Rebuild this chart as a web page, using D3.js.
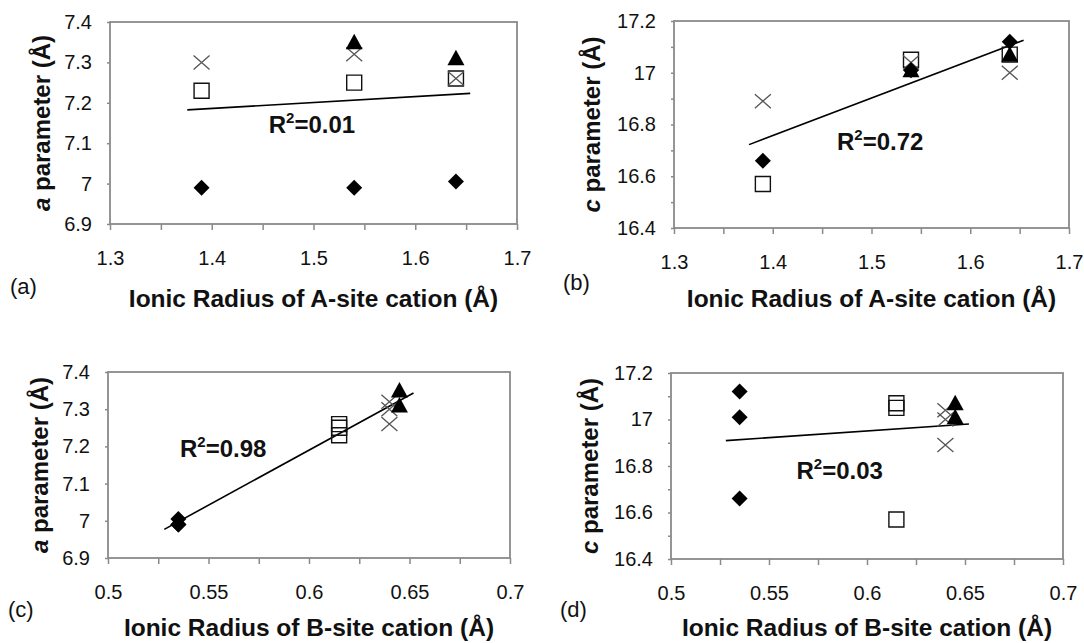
<!DOCTYPE html>
<html>
<head>
<meta charset="utf-8">
<script src="https://cdn.jsdelivr.net/npm/d3@7"></script>
<style>
  body { margin: 0; background: #fff; }
  text { font-family: "Liberation Sans", Arial, sans-serif; fill: #111; }
</style>
</head>
<body>
<svg id="chart" width="1084" height="643"></svg>
<script>
// Ionic radii (Å)
const aSiteRadius = [1.39, 1.54, 1.64];
// one B-site radius per series: diamond, square, cross, triangle
const bSiteRadius = [0.535, 0.615, 0.64, 0.645];
const shapes = ["diamond", "square", "cross", "triangle"];

// a parameter (Å) for each A-site radius
const aDiamond = [6.99, 6.99, 7.005];
const aSquare = [7.23, 7.25, 7.26];
const aCross = [7.30, 7.32, 7.26];
const aTriangle = [null, 7.35, 7.31];

// c parameter (Å) for each A-site radius
const cDiamond = [16.66, 17.01, 17.12];
const cSquare = [16.57, 17.05, 17.07];
const cCross = [16.89, 17.04, 17.00];
const cTriangle = [null, 17.01, 17.07];

// axis ticks
const xTicksA = [1.3, 1.4, 1.5, 1.6, 1.7];
const xMinorA = [1.35, 1.45, 1.55, 1.65];
const xTicksB = [0.5, 0.55, 0.6, 0.65, 0.7];
const xMinorB = [0.525, 0.575, 0.625, 0.675];
const yTicksAParam = [6.9, 7, 7.1, 7.2, 7.3, 7.4];
const yTicksCParam = [16.4, 16.6, 16.8, 17, 17.2];
const yMinorCParam = [16.5, 16.7, 16.9, 17.1];

// R² values printed on the panels
const r2Labels = ["0.01", "0.72", "0.98", "0.03"];

// Build points
const aVals = [aDiamond, aSquare, aCross, aTriangle];
const cVals = [cDiamond, cSquare, cCross, cTriangle];
const points = [];
shapes.forEach((shape, s) => {
  aSiteRadius.forEach((r, i) => {
    if (aVals[s][i] == null) return;
    points.push({ shape, aR: r, bR: bSiteRadius[s], a: aVals[s][i], c: cVals[s][i] });
  });
});
// draw order: squares, crosses, diamonds, triangles on top
const drawOrder = { square: 0, cross: 1, diamond: 2, triangle: 3 };
points.sort((p, q) => drawOrder[p.shape] - drawOrder[q.shape]);

const panels = [
  { tag: "(a)", tagX: 10, tagY: 294, xKey: "aR", yKey: "a", xDomain: [1.3, 1.7], xTicks: xTicksA, xMinor: xMinorA,
    yDomain: [6.9, 7.4], yTicks: yTicksAParam, yMinor: [], yVar: "a", r2: r2Labels[0], r2At: [1.456, 7.125],
    xTitle: "Ionic Radius of A-site cation (Å)", left: 110, top: 22, w: 407, h: 202, yTitleX: 50, xTitleY: 307 },
  { tag: "(b)", tagX: 563, tagY: 290, xKey: "aR", yKey: "c", xDomain: [1.3, 1.7], xTicks: xTicksA, xMinor: xMinorA,
    yDomain: [16.4, 17.2], yTicks: yTicksCParam, yMinor: yMinorCParam, yVar: "c", r2: r2Labels[1], r2At: [1.465, 16.70],
    xTitle: "Ionic Radius of A-site cation (Å)", left: 674, top: 21, w: 395, h: 207, yTitleX: 600, xTitleY: 307 },
  { tag: "(c)", tagX: 8, tagY: 617, xKey: "bR", yKey: "a", xDomain: [0.5, 0.7], xTicks: xTicksB, xMinor: xMinorB,
    yDomain: [6.9, 7.4], yTicks: yTicksAParam, yMinor: [], yVar: "a", r2: r2Labels[2], r2At: [0.5358, 7.171],
    xTitle: "Ionic Radius of B-site cation (Å)", left: 108, top: 372, w: 402, h: 186, yTitleX: 48, xTitleY: 636 },
  { tag: "(d)", tagX: 560, tagY: 617, xKey: "bR", yKey: "c", xDomain: [0.5, 0.7], xTicks: xTicksB, xMinor: xMinorB,
    yDomain: [16.4, 17.2], yTicks: yTicksCParam, yMinor: yMinorCParam, yVar: "c", r2: r2Labels[3], r2At: [0.564, 16.744],
    xTitle: "Ionic Radius of B-site cation (Å)", left: 671, top: 373, w: 392, h: 186, yTitleX: 598, xTitleY: 636 }
];

const svg = d3.select("#chart");
const fmt = d => String(+d.toFixed(3));
const axisColor = "#8a8a8a";

const marker = {
  diamond: "M0,-8L8,0L0,8L-8,0Z",
  square: "M-7.5,-7.5H7.5V7.5H-7.5Z",
  triangle: "M0,-8.5L8.5,7L-8.5,7Z",
  cross: "M-8,-7L8,7M-8,7L8,-7"
};

panels.forEach(p => {
  const x = d3.scaleLinear().domain(p.xDomain).range([0, p.w]);
  const y = d3.scaleLinear().domain(p.yDomain).range([p.h, 0]);
  const g = svg.append("g").attr("transform", `translate(${p.left},${p.top})`);

  // x axis: minor ticks then labelled ticks
  g.append("g").attr("transform", `translate(0,${p.h})`)
    .call(d3.axisBottom(x).tickValues(p.xMinor).tickSize(6).tickFormat(""))
    .call(a => a.select(".domain").remove());
  g.append("g").attr("transform", `translate(0,${p.h})`)
    .call(d3.axisBottom(x).tickValues(p.xTicks).tickSize(6).tickPadding(21).tickFormat(fmt))
    .call(a => a.select(".domain").remove())
    .selectAll("text").style("font-size", "20px").attr("fill", "#222");

  // y axis
  g.append("g")
    .call(d3.axisLeft(y).tickValues(p.yMinor).tickSize(3).tickFormat(""))
    .call(a => a.select(".domain").remove());
  g.append("g")
    .call(d3.axisLeft(y).tickValues(p.yTicks).tickSize(3).tickPadding(15).tickFormat(fmt))
    .call(a => a.select(".domain").remove())
    .selectAll("text").style("font-size", "20px").attr("fill", "#222");

  g.selectAll(".tick line").attr("stroke", axisColor).attr("stroke-width", 1.5);

  // plot frame
  g.append("rect").attr("width", p.w).attr("height", p.h)
    .attr("fill", "none").attr("stroke", axisColor).attr("stroke-width", 1.8);

  // least squares trendline over all points
  const xs = points.map(d => d[p.xKey]);
  const ys = points.map(d => d[p.yKey]);
  const mx = d3.mean(xs), my = d3.mean(ys);
  const sxy = d3.sum(xs, (v, i) => (v - mx) * (ys[i] - my));
  const sxx = d3.sum(xs, v => (v - mx) * (v - mx));
  const slope = sxy / sxx;
  const pad = 0.035 * (p.xDomain[1] - p.xDomain[0]);
  const [xa, xb] = d3.extent(xs);
  g.append("path")
    .datum([xa - pad, xb + pad])
    .attr("fill", "none").attr("stroke", "#000").attr("stroke-width", 1.6)
    .attr("d", d3.line().x(v => x(v)).y(v => y(my + slope * (v - mx))));

  // markers
  g.selectAll(".pt").data(points).enter().append("path")
    .attr("transform", d => `translate(${x(d[p.xKey])},${y(d[p.yKey])})`)
    .attr("d", d => marker[d.shape])
    .attr("fill", d => d.shape === "diamond" || d.shape === "triangle" ? "#000" : "none")
    .attr("stroke", d => d.shape === "cross" ? "#555" : (d.shape === "square" ? "#111" : "none"))
    .attr("stroke-width", d => d.shape === "cross" ? 1.3 : 1.4);

  // R² label
  const t = g.append("text")
    .attr("x", x(p.r2At[0])).attr("y", y(p.r2At[1]))
    .style("font-size", "24px").style("font-weight", "bold");
  t.append("tspan").text("R");
  t.append("tspan").text("2").style("font-size", "15px").attr("dy", -10);
  t.append("tspan").text("=" + p.r2).attr("dy", 10);

  // x title
  g.append("text")
    .attr("x", p.w / 2).attr("y", p.xTitleY - p.top)
    .attr("text-anchor", "middle")
    .style("font-size", "24.5px").style("font-weight", "bold")
    .text(p.xTitle);

  // y title
  const yt = svg.append("text")
    .attr("transform", `translate(${p.yTitleX},${p.top + p.h / 2}) rotate(-90)`)
    .attr("text-anchor", "middle")
    .style("font-size", "24px").style("font-weight", "bold");
  yt.append("tspan").text(p.yVar).style("font-style", "italic");
  yt.append("tspan").text(" parameter (Å)");

  // panel tag
  svg.append("text")
    .attr("x", p.tagX).attr("y", p.tagY)
    .style("font-size", "22px")
    .text(p.tag);
});
</script>
</body>
</html>
